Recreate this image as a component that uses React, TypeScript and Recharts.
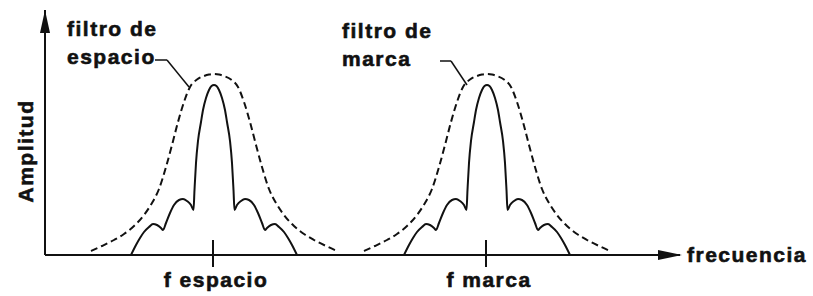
import { Label, Line, LineChart, ReferenceDot, ReferenceLine, XAxis, YAxis } from "recharts";

const FONT = '"Liberation Sans", Arial, Helvetica, sans-serif';
const INK = "#111";

// axes in arbitrary units
const freqDomain = [0, 635];
const ampDomain = [0, 245];

const carrierTicks = [168, 441];
const carrierLabels = ["f espacio", "f marca"];

const spaceCenter = 169;
const markCenter = 442;

// keyed signal spectrum around a carrier (offset, amplitude)
const spectrumOffsets = [
  -83, -78, -74, -70, -65, -61, -57, -53, -51, -48, -44, -40, -35, -31, -27, -23, -20.5,
  -19.5, -18, -16, -13, -11, -8, -5, -2.5, 0,
  2.5, 5, 8, 11, 13, 16, 18, 19.5,
  20.5, 23, 27, 31, 35, 40, 44, 48, 51, 53, 57, 61, 65, 70, 74, 78, 83,
];
const spectrumLevels = [
  0, 10, 17, 23, 28, 31, 30, 27, 25, 32, 42, 50, 55, 56, 54, 50, 45,
  65, 92, 114, 133, 145, 157, 165, 169, 170,
  169, 165, 157, 145, 133, 114, 92, 65,
  45, 50, 54, 56, 55, 50, 42, 32, 25, 27, 30, 31, 28, 23, 17, 10, 0,
];

// filter response around a carrier (offset, amplitude)
const filterOffsets = [
  -123, -112, -100, -90, -80, -70, -62, -55, -48, -42, -36, -30, -24, -17, -10, -5, 0,
  5, 10, 17, 24, 30, 36, 42, 48, 55, 62, 70, 80, 90, 100, 112, 123,
];
const filterLevels = [
  4, 9, 15, 21, 29, 40, 52, 66, 88, 110, 133, 153, 168, 175.5, 179, 180.5, 181,
  180.5, 179, 175.5, 168, 153, 133, 110, 88, 66, 52, 40, 29, 21, 15, 9, 4,
];

// annotation leaders (x, y)
const spaceLeaderX = [110, 122, 144];
const spaceLeaderY = [195, 195, 168];
const markLeaderX = [395, 406, 422];
const markLeaderY = [194, 194, 170];

const shift = (center: number, offsets: number[], levels: number[]) =>
  offsets.map((d, i) => ({ f: center + d, a: levels[i] }));

const spaceSignal = shift(spaceCenter, spectrumOffsets, spectrumLevels);
const markSignal = shift(markCenter, spectrumOffsets, spectrumLevels);
const spaceFilter = shift(spaceCenter, filterOffsets, filterLevels);
const markFilter = shift(markCenter, filterOffsets, filterLevels);

const textStyle = {
  fontFamily: FONT,
  fontWeight: 700,
  fontSize: 21,
  letterSpacing: 1.5,
  fill: INK,
  stroke: INK,
  strokeWidth: 0.6,
};

const CarrierTick = (props: any) => {
  const { x, y, payload } = props;
  const label = carrierLabels[carrierTicks.indexOf(payload.value)];
  return (
    <g>
      <line x1={x} x2={x} y1={y - 15} y2={y + 12} stroke={INK} strokeWidth={2} />
      <text x={x + 3} y={y + 32} textAnchor="middle" style={textStyle}>
        {label}
      </text>
    </g>
  );
};

const FreqArrow = (props: any) => {
  const { cx, cy } = props;
  return (
    <g>
      <path d={`M${cx + 2},${cy} L${cx - 22},${cy - 5} L${cx - 22},${cy + 5} Z`} fill={INK} />
      <text x={cx + 7} y={cy + 7} style={textStyle}>
        frecuencia
      </text>
    </g>
  );
};

const AmpArrow = (props: any) => {
  const { cx, cy } = props;
  return <path d={`M${cx},${cy} L${cx - 5},${cy + 23} L${cx + 5},${cy + 23} Z`} fill={INK} />;
};

const filterLabel = (lines: string[]) => (props: any) => {
  const { cx, cy } = props;
  return (
    <text x={cx} y={cy} style={textStyle}>
      <tspan x={cx}>{lines[0]}</tspan>
      <tspan x={cx} dy={28}>
        {lines[1]}
      </tspan>
    </text>
  );
};

const AmpLabel = (props: any) => {
  const { viewBox } = props;
  const x = viewBox.x + viewBox.width - 12;
  const y = viewBox.y + 141;
  return (
    <text x={x} y={y} textAnchor="middle" transform={`rotate(-90, ${x}, ${y})`} style={textStyle}>
      Amplitud
    </text>
  );
};

export default function App() {
  return (
    <div style={{ position: "absolute", left: 0, top: 0, background: "#fff" }}>
      <LineChart width={813} height={296} margin={{ top: 10, right: 133, bottom: 40, left: 44 }}>
        <XAxis
          type="number"
          dataKey="f"
          domain={freqDomain}
          allowDataOverflow
          ticks={carrierTicks}
          tick={<CarrierTick />}
          tickLine={false}
          tickSize={0}
          tickMargin={0}
          height={1}
          axisLine={{ stroke: INK, strokeWidth: 2 }}
        />
        <YAxis
          type="number"
          dataKey="a"
          domain={ampDomain}
          allowDataOverflow
          width={1}
          tick={false}
          tickLine={false}
          axisLine={{ stroke: INK, strokeWidth: 2 }}
        >
          <Label content={<AmpLabel />} />
        </YAxis>

        <Line data={spaceFilter} dataKey="a" type="monotone" stroke={INK} strokeWidth={2} strokeDasharray="7 4" dot={false} isAnimationActive={false} />
        <Line data={markFilter} dataKey="a" type="monotone" stroke={INK} strokeWidth={2} strokeDasharray="7 4" dot={false} isAnimationActive={false} />
        <Line data={spaceSignal} dataKey="a" type="monotone" stroke={INK} strokeWidth={2} dot={false} isAnimationActive={false} />
        <Line data={markSignal} dataKey="a" type="monotone" stroke={INK} strokeWidth={2} dot={false} isAnimationActive={false} />

        {[0, 1].map((i) => (
          <ReferenceLine
            key={`s${i}`}
            segment={[
              { x: spaceLeaderX[i], y: spaceLeaderY[i] },
              { x: spaceLeaderX[i + 1], y: spaceLeaderY[i + 1] },
            ]}
            stroke={INK}
            strokeWidth={1.5}
            ifOverflow="visible"
          />
        ))}
        {[0, 1].map((i) => (
          <ReferenceLine
            key={`m${i}`}
            segment={[
              { x: markLeaderX[i], y: markLeaderY[i] },
              { x: markLeaderX[i + 1], y: markLeaderY[i + 1] },
            ]}
            stroke={INK}
            strokeWidth={1.5}
            ifOverflow="visible"
          />
        ))}

        <ReferenceDot x={22} y={219} r={0} ifOverflow="visible" shape={filterLabel(["filtro de", "espacio"])} />
        <ReferenceDot x={297} y={217} r={0} ifOverflow="visible" shape={filterLabel(["filtro de", "marca"])} />
        <ReferenceDot x={635} y={0} r={0} ifOverflow="visible" shape={<FreqArrow />} />
        <ReferenceDot x={0} y={245} r={0} ifOverflow="visible" shape={<AmpArrow />} />
      </LineChart>
    </div>
  );
}
